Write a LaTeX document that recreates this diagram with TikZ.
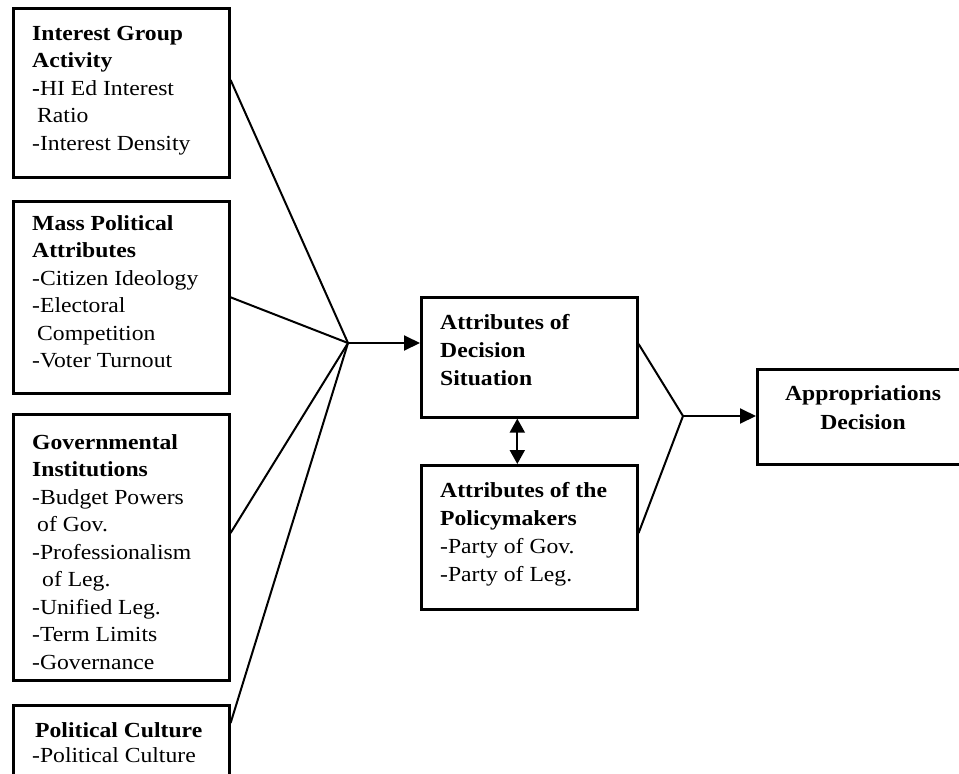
\documentclass[tikz,border=0pt]{standalone}
\usepackage{fontspec}
\setmainfont{Liberation Serif}[FakeStretch=1.1]
\usetikzlibrary{arrows.meta,calc}
% fixed height for the first line of every text block
\newcommand\lineup{\rule{0pt}{15pt}}
\begin{document}
\begin{tikzpicture}[x=1pt,y=-1pt,
  box/.style={draw,line width=2.6pt,rectangle,inner sep=0pt,anchor=north west},
  txt/.style={inner sep=0pt,anchor=north west,align=left,
    font=\fontsize{21.5pt}{27.5pt}\selectfont},
  link/.style={line width=2pt},
  arr/.style={link,-{Triangle[length=16pt,width=15pt]}},
  dbl/.style={link,{Triangle[length=14pt,width=15pt]}-{Triangle[length=14pt,width=15pt]}}]
\useasboundingbox (0,0) rectangle (959,774);
\clip (0,0) rectangle (959,774);

% boxes
\node[box,minimum width=216pt,minimum height=169pt] (ig) at (12,7) {};
\node[box,minimum width=216pt,minimum height=192pt] (mp) at (12,200) {};
\node[box,minimum width=216pt,minimum height=266pt] (gi) at (12,413) {};
\node[box,minimum width=216pt,minimum height=120pt] (pc) at (12,704) {};
\node[box,minimum width=216pt,minimum height=120pt] (ds) at (420,296) {};
\node[box,minimum width=216pt,minimum height=144pt] (pm) at (420,464) {};
\node[box,minimum width=214pt,minimum height=95pt] (ad) at (756,368) {};

% texts
\node[txt] (igt) at (32,25) {\lineup\textbf{Interest Group}\\ \textbf{Activity}\\
  \textbf{-}HI Ed Interest\\ \hspace*{5pt}Ratio\\ -Interest Density};
\node[txt] (mpt) at (32,215) {\lineup\textbf{Mass Political}\\ \textbf{Attributes}\\
  -Citizen Ideology\\ -Electoral\\ \hspace*{5pt}Competition\\ -Voter Turnout};
\node[txt] (git) at (32,434) {\lineup\textbf{Governmental}\\ \textbf{Institutions}\\
  -Budget Powers\\ \hspace*{5pt}of Gov.\\ -Professionalism\\ \hspace*{10pt}of Leg.\\
  -Unified Leg.\\ -Term Limits\\ -Governance};
\node[txt,font=\fontsize{21.5pt}{25pt}\selectfont] (pct) at (32,722)
  {\lineup\hspace*{3pt}\textbf{Political Culture}\\ -Political Culture};
\node[txt,font=\fontsize{21.5pt}{28pt}\selectfont] (dst) at (440,314)
  {\lineup\textbf{Attributes of}\\ \textbf{Decision}\\ \textbf{Situation}};
\node[txt,font=\fontsize{21.5pt}{28pt}\selectfont] (pmt) at (440,482)
  {\lineup\textbf{Attributes of the}\\ \textbf{Policymakers}\\ -Party of Gov.\\ -Party of Leg.};
\node[txt,anchor=north,align=center,font=\fontsize{21.5pt}{29pt}\selectfont] (adt) at (863,385)
  {\lineup\textbf{Appropriations}\\ \textbf{Decision}};

% junctions
\coordinate (h1) at (348,343);
\coordinate (h2) at (683,416);

% connectors
\draw[link] ($(ig.north east)+(0,73)$) -- (h1);
\draw[link] (mp.east) -- (h1);
\draw[link] ($(gi.north east)+(0,120)$) -- (h1);
\draw[link] ($(pc.north east)+(0,19)$) -- (h1);
\draw[arr] (h1) -- (h1 -| ds.west);
\draw[link] ($(ds.north east)+(0,48)$) -- (h2);
\draw[link] ($(pm.north east)+(0,69)$) -- (h2);
\draw[arr] (h2) -- (h2 -| ad.west);
\draw[dbl] ($(ds.south)+(-12,0)$) -- ($(pm.north)+(-12,0)$);
\end{tikzpicture}
\end{document}
